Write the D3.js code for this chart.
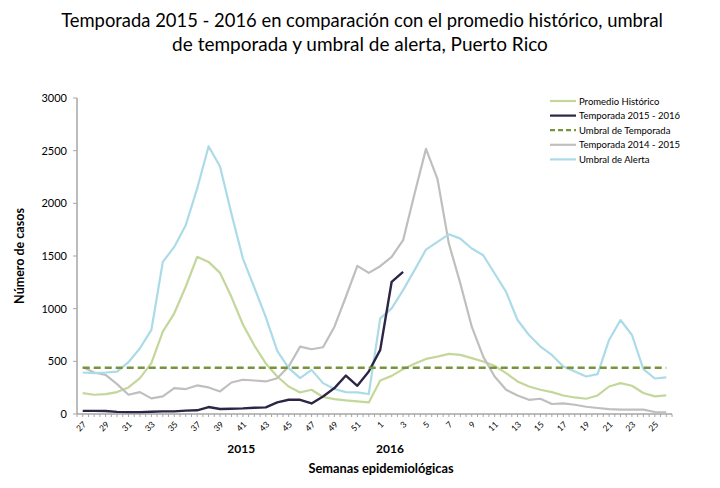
<html>
<head>
<meta charset="utf-8">
<script src="https://cdn.jsdelivr.net/npm/d3@7"></script>
<style>
body { margin: 0; background: #fff; }
text { font-family: Lato, "Open Sans", sans-serif; fill: #000; }
</style>
</head>
<body>
<svg width="720" height="488"></svg>
<script>
// semanas epidemiologicas: 27-52 de 2015, 1-26 de 2016
var weeks = ["27","28","29","30","31","32","33","34","35","36","37","38","39","40","41","42","43","44","45","46","47","48","49","50","51","52",
             "1","2","3","4","5","6","7","8","9","10","11","12","13","14","15","16","17","18","19","20","21","22","23","24","25","26"];
var tickWeeks = ["27","29","31","33","35","37","39","41","43","45","47","49","51","1","3","5","7","9","11","13","15","17","19","21","23","25"];
var yTicks = [0, 500, 1000, 1500, 2000, 2500, 3000];

var promedio = [199,183,189,208,252,341,483,782,956,1208,1492,1444,1340,1110,850,650,480,356,261,205,230,161,142,129,120,110,
                318,362,426,476,523,545,571,561,530,498,457,388,309,261,230,208,176,157,145,176,261,293,268,199,167,176];
var temporada1516 = [30,30,28,20,18,18,22,25,25,32,35,66,47,50,53,60,63,110,135,135,100,167,246,365,268,403,
                     609,1255,1350];
var umbralTemporada = 440;
var temporada1415 = [445,394,372,284,183,208,148,167,246,237,271,252,214,299,325,318,309,340,451,640,615,634,829,1113,1406,1340,
                     1403,1492,1650,2091,2517,2233,1618,1240,829,545,356,230,175,135,145,95,101,88,69,57,47,41,41,41,19,16];
var umbralAlerta = [394,388,394,403,492,624,798,1444,1586,1792,2139,2542,2350,1900,1476,1200,920,600,435,341,419,293,237,208,205,190,
                    908,1003,1176,1366,1561,1634,1706,1665,1571,1507,1334,1160,892,750,640,561,451,403,356,378,703,892,750,426,337,347];

var years = [{label: "2015", week: "41"}, {label: "2016", week: "2"}];

var width = 720, height = 488;
var margin = {top: 98, right: 48, bottom: 74, left: 77};
var innerwidth = width - margin.left - margin.right;
var innerheight = height - margin.top - margin.bottom;

var svg = d3.select("svg").attr("viewBox", [0, 0, width, height]);

var x = d3.scaleBand()
    .domain(d3.range(weeks.length))
    .range([margin.left, margin.left + innerwidth]);
var y = d3.scaleLinear()
    .domain([0, 3000])
    .range([margin.top + innerheight, margin.top]);
var cx = function(i) { return x(i) + x.bandwidth() / 2; };

var axisColor = "#a6a6a6";

// title
var title = svg.append("g").attr("text-anchor", "middle");
title.append("text").attr("x", 362).attr("y", 27).style("font-size", "18.4px")
    .text("Temporada 2015 - 2016 en comparación con el promedio histórico, umbral");
title.append("text").attr("x", 360).attr("y", 51).style("font-size", "19px")
    .text("de temporada y umbral de alerta, Puerto Rico");

// y axis
var yAxis = svg.append("g");
yAxis.append("line")
    .attr("x1", margin.left).attr("x2", margin.left)
    .attr("y1", y(3000)).attr("y2", y(0))
    .attr("stroke", axisColor).attr("stroke-width", 1.5);
yAxis.selectAll(".ytick").data(yTicks).enter().append("line")
    .attr("x1", margin.left - 4).attr("x2", margin.left)
    .attr("y1", function(d) { return y(d); }).attr("y2", function(d) { return y(d); })
    .attr("stroke", axisColor);
yAxis.selectAll(".ylab").data(yTicks).enter().append("text")
    .attr("x", margin.left - 10)
    .attr("y", function(d) { return y(d) + 4; })
    .attr("text-anchor", "end")
    .style("font-size", "11px")
    .text(function(d) { return d; });

svg.append("text")
    .attr("transform", "translate(24," + (margin.top + innerheight / 2) + ") rotate(-90)")
    .attr("text-anchor", "middle")
    .style("font-size", "12.5px").style("font-weight", "bold")
    .text("Número de casos");

// x axis
var xAxis = svg.append("g");
xAxis.append("line")
    .attr("x1", margin.left).attr("x2", margin.left + innerwidth)
    .attr("y1", y(0)).attr("y2", y(0))
    .attr("stroke", axisColor).attr("stroke-width", 1.5);
xAxis.selectAll(".xtick").data(d3.range(weeks.length * 2 + 1)).enter().append("line")
    .attr("x1", function(d) { return margin.left + d * x.step() / 2; })
    .attr("x2", function(d) { return margin.left + d * x.step() / 2; })
    .attr("y1", y(0)).attr("y2", y(0) + 3)
    .attr("stroke", axisColor);
xAxis.selectAll(".xlab").data(tickWeeks).enter().append("text")
    .attr("transform", function(d) {
        var i = weeks.indexOf(d);
        return "translate(" + (cx(i) + 2) + "," + (y(0) + 9) + ") rotate(-45)";
    })
    .attr("text-anchor", "end")
    .attr("dy", "0.35em")
    .style("font-size", "8.5px")
    .text(function(d) { return d; });

svg.selectAll(".year").data(years).enter().append("text")
    .attr("x", function(d) { return x(weeks.indexOf(d.week)) + 4; })
    .attr("y", 453)
    .attr("text-anchor", "middle")
    .style("font-size", "12px").style("font-weight", "bold")
    .text(function(d) { return d.label; });

svg.append("text")
    .attr("x", 381).attr("y", 473)
    .attr("text-anchor", "middle")
    .style("font-size", "12.8px").style("font-weight", "bold")
    .text("Semanas epidemiológicas");

// series
var line = d3.line()
    .x(function(d, i) { return cx(i); })
    .y(function(d) { return y(d); });

var series = [
    {name: "Promedio Histórico", values: promedio, color: "#c4d79b", width: 2.2},
    {name: "Temporada 2014 - 2015", values: temporada1415, color: "#bfbfbf", width: 2.2},
    {name: "Umbral de Alerta", values: umbralAlerta, color: "#acdbe8", width: 2.2},
    {name: "Temporada 2015 - 2016", values: temporada1516, color: "#2d2545", width: 2.4}
];

svg.selectAll(".serie").data(series).enter().append("path")
    .attr("class", "serie")
    .attr("fill", "none")
    .attr("stroke", function(d) { return d.color; })
    .attr("stroke-width", function(d) { return d.width; })
    .attr("stroke-linejoin", "round")
    .attr("d", function(d) { return line(d.values); });

svg.append("line")
    .attr("x1", cx(0)).attr("x2", cx(weeks.length - 1))
    .attr("y1", y(umbralTemporada)).attr("y2", y(umbralTemporada))
    .attr("stroke", "#77933c").attr("stroke-width", 2.5)
    .attr("stroke-dasharray", "7,4");

// legend
var legendItems = [
    {name: "Promedio Histórico", color: "#c4d79b", dash: null},
    {name: "Temporada 2015 - 2016", color: "#2d2545", dash: null},
    {name: "Umbral de Temporada", color: "#77933c", dash: "5,3"},
    {name: "Temporada 2014 - 2015", color: "#bfbfbf", dash: null},
    {name: "Umbral de Alerta", color: "#acdbe8", dash: null}
];
var legend = svg.append("g").attr("transform", "translate(550,101)");
var rows = legend.selectAll(".leg").data(legendItems).enter().append("g")
    .attr("transform", function(d, i) { return "translate(0," + (i * 14.6) + ")"; });
rows.append("line")
    .attr("x1", 0).attr("x2", 26)
    .attr("stroke", function(d) { return d.color; })
    .attr("stroke-width", 2.2)
    .attr("stroke-dasharray", function(d) { return d.dash; });
rows.append("text")
    .attr("x", 29).attr("y", 3.5)
    .style("font-size", "9.5px")
    .text(function(d) { return d.name; });
</script>
</body>
</html>
